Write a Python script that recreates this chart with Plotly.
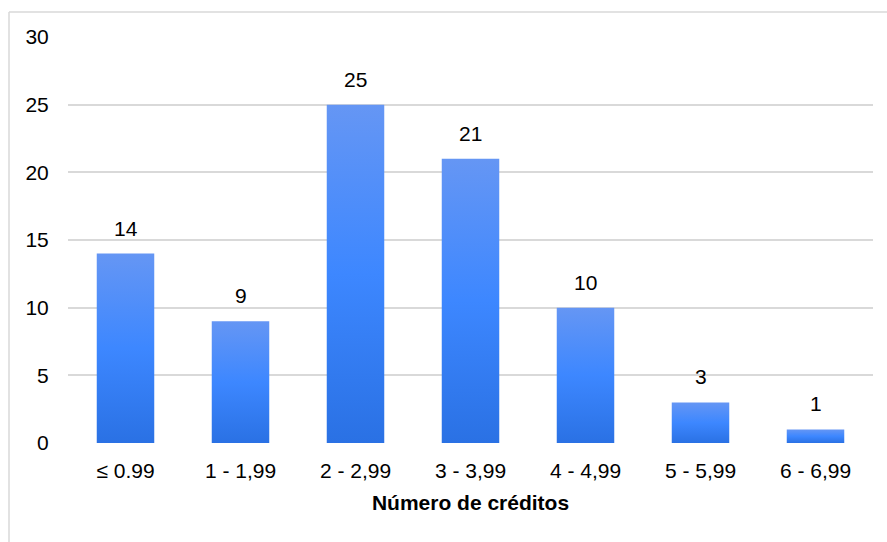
import plotly.graph_objects as go

# Distribution of students by number of credits
categories = ["≤ 0.99", "1 - 1,99", "2 - 2,99", "3 - 3,99", "4 - 4,99", "5 - 5,99", "6 - 6,99"]
counts = [14, 9, 25, 21, 10, 3, 1]
y_ticks = [0, 5, 10, 15, 20, 25, 30]

BAR_HALF = 0.25  # bars fill half of each category slot
FONT = "Liberation Sans, Arial, sans-serif"
GRADIENT = [[0.0, "#2a71e4"], [0.5, "#3d87ff"], [1.0, "#6596f4"]]

fig = go.Figure()

# Each bar is a filled polygon so it can carry a vertical colour gradient
for i, (cat, v) in enumerate(zip(categories, counts)):
    fig.add_trace(go.Scatter(
        x=[i - BAR_HALF, i + BAR_HALF, i + BAR_HALF, i - BAR_HALF, i - BAR_HALF],
        y=[0, 0, v, v, 0],
        mode="lines",
        line=dict(width=0, color="rgba(0,0,0,0)"),
        fill="toself",
        fillgradient=dict(type="vertical", colorscale=GRADIENT, start=0, stop=v),
        hoverinfo="skip",
        name=cat,
        showlegend=False,
    ))

# Value labels above the bars
annotations = [
    dict(x=i, y=v, xref="x", yref="y", text=str(v), showarrow=False,
         yanchor="bottom", yshift=12,
         font=dict(family=FONT, size=21, color="#000000"))
    for i, v in enumerate(counts)
]

fig.update_layout(
    width=887,
    height=542,
    margin=dict(l=68, r=14, t=37, b=99),
    paper_bgcolor="#ffffff",
    plot_bgcolor="#ffffff",
    font=dict(family=FONT, size=21, color="#000000"),
    annotations=annotations,
    xaxis=dict(
        range=[-0.5, len(categories) - 0.5],
        tickmode="array",
        tickvals=list(range(len(categories))),
        ticktext=categories,
        showgrid=False,
        zeroline=False,
        showline=False,
        ticks="outside",
        ticklen=9,
        tickcolor="rgba(0,0,0,0)",
        tickfont=dict(family=FONT, size=21, color="#000000"),
        title=dict(text="<b>Número de créditos</b>", font=dict(family=FONT, size=21, color="#000000"), standoff=14),
        fixedrange=True,
    ),
    yaxis=dict(
        range=[0, 30],
        tickmode="array",
        tickvals=y_ticks,
        showgrid=True,
        gridcolor="#d9d9d9",
        gridwidth=1.5,
        zeroline=False,
        showline=False,
        ticks="outside",
        ticklen=14,
        tickcolor="rgba(0,0,0,0)",
        tickfont=dict(family=FONT, size=21, color="#000000"),
        fixedrange=True,
    ),
    shapes=[
        # light frame around the chart (open on the right and bottom)
        dict(type="line", xref="paper", yref="paper",
             x0=-59 / 805, x1=1.1, y0=1 + 25 / 406, y1=1 + 25 / 406,
             line=dict(color="#d9d9d9", width=1.5)),
        dict(type="line", xref="paper", yref="paper",
             x0=-59 / 805, x1=-59 / 805, y0=1 + 25 / 406, y1=-0.5,
             line=dict(color="#d9d9d9", width=1.5)),
    ],
)

fig.write_html("out.html")
